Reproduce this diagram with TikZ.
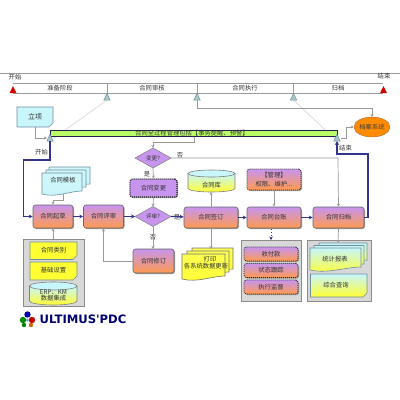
\documentclass[tikz,border=0pt]{standalone}
\usepackage{fontspec}
\setmainfont{Noto Sans CJK SC}
\newfontfamily\logofont{DejaVu Sans}
\usetikzlibrary{arrows.meta,shadows,calc,shapes.geometric}
\definecolor{grayln}{HTML}{9A9A9A}
\definecolor{blueln}{HTML}{34348C}
\definecolor{txt}{HTML}{333333}
\definecolor{purp}{HTML}{C795EE}
\definecolor{orng}{HTML}{FF9A50}
\definecolor{cyanb}{HTML}{C8F6FA}
\definecolor{yel}{HTML}{FFFF33}
\definecolor{panelc}{HTML}{D8D8D8}
\definecolor{edge}{HTML}{6F8FA0}
\tikzset{
  lbl/.style={font=\fontsize{6.3}{7}\selectfont,text=txt,inner sep=0pt},
  smalllbl/.style={lbl,font=\fontsize{5.6}{6}\selectfont},
  grayarrow/.style={draw=grayln,line width=.7pt,-{Stealth[length=3pt,width=3pt]}},
  bluearrow/.style={draw=blueln,line width=1.2pt,-{Stealth[length=4pt,width=4pt]}},
  proc/.style={lbl,draw=black!60,rounded corners=2.5pt,top color=purp,bottom color=orng,line width=.6pt,
     drop shadow={shadow xshift=1pt,shadow yshift=-1pt,fill=black!50,opacity=.8}},
  dotproc/.style={proc,draw=black!85,dashed,dash pattern=on 1pt off 1pt,line width=.8pt},
  purpleproc/.style={dotproc,top color=purp,bottom color=purp,line width=1.2pt},
  decide/.style={draw=black!50,fill=purp,line width=.5pt},
  panelbox/.style={draw=black!45,fill=panelc,line width=.5pt,
     drop shadow={shadow xshift=1pt,shadow yshift=-1pt,fill=black!50,opacity=.6}},
  tltri/.style={draw=edge,line width=.5pt,fill=cyanb!60!gray},
  redtri/.style={fill=red!85!black},
}
% note with folded lower right corner
\newcommand{\notebox}[6]{% x0 y0 x1 y1 topcolor bottomcolor
  \path[draw=edge,line width=.6pt,top color=#5,bottom color=#6]
    (#1,#2) -- (#3,#2) -- (#3,#4-4) -- (#3-4,#4) -- (#1,#4) -- cycle;}
% document with a wavy lower edge
\newcommand{\docbox}[6]{%
  \path[draw=#6,line width=.6pt,top color=#5!85!white,bottom color=#5]
    (#1,#2) -- (#3,#2) -- (#3,#4-3)
    .. controls ($(#1,#4)!.7!(#3,#4)+(0,-3)$) and ($(#1,#4)!.35!(#3,#4)+(0,4)$) .. (#1,#4) -- cycle;}
\newcommand{\docboxb}[6]{%
  \path[draw=#6,line width=.6pt,top color=cyanb,bottom color=#5]
    (#1,#2) -- (#3,#2) -- (#3,#4-3)
    .. controls ($(#1,#4)!.7!(#3,#4)+(0,-3)$) and ($(#1,#4)!.35!(#3,#4)+(0,4)$) .. (#1,#4) -- cycle;}
\newcommand{\cyl}[6]{% x0 y0 x1 y1 ry bottomcolor
  \path[draw=black!50,line width=.6pt,top color=cyanb,bottom color=#6]
    (#1,#2+#5) -- (#1,#4-#5) arc[start angle=180,end angle=360,x radius={(#3-#1)/2},y radius=-#5] -- (#3,#2+#5) -- cycle;
  \path[draw=black!50,line width=.6pt,fill=cyanb]
    ({(#1+#3)/2},#2+#5) ellipse[x radius={(#3-#1)/2},y radius=#5];}
\begin{document}
\begin{tikzpicture}[x=1pt,y=-1pt]
\useasboundingbox (0,0) rectangle (400,400);
% timeline
\draw[grayln,line width=.7pt] (0,73) -- (400,73);
\draw[grayln,line width=.8pt] (13,83) -- (383,83) (13,93) -- (383,93);
\draw[grayln,line width=.8pt] (107,83) -- (107,93) (197,83) -- (197,93) (293.5,83) -- (293.5,93);
\node[lbl] (lstart) at (15,77) {开始};
\node[lbl] (lend) at (384,76) {结束};
\node[lbl] (p1) at (60,88) {准备阶段};
\node[lbl] (p2) at (152,88) {合同审核};
\node[lbl] (p3) at (245,88) {合同执行};
\node[lbl] (p4) at (338,88) {归档};
\fill[redtri] (13,86) -- (16.5,93) -- (9.5,93) -- cycle;
\fill[redtri] (383.5,86) -- (387,93) -- (380,93) -- cycle;
\coordinate (t1) at (107,100); \coordinate (t2) at (197,100); \coordinate (t3) at (293.5,100);
\coordinate (tb) at (50,141); \coordinate (te) at (337,141);
% long faint links
\draw[black!15,line width=.7pt] (t1) -- (tb);
\draw[black!15,line width=.7pt] (t3) -- (te);
% sys line
\draw[grayarrow] (t2) |- (197,108) -- (372,108) -- (372,117);
% green bar
\node[draw=blueln!60!black,fill=green!45!yellow!60!white,line width=1pt,minimum width=287pt,minimum height=6pt,inner sep=0pt] (bar) at (193.5,133) {};
\node[lbl,text=black!80] (bartxt) at (192,133) {合同全过程管理包括【事务提醒、预警】};
% triangles
\foreach \x/\y in {107/100,197/100,293.5/100,50/141,337/141}
  \path[tltri] (\x,\y-6.5) -- (\x+3.2,\y) -- (\x-3.2,\y) -- cycle;
% initiation
\notebox{17}{107}{53}{127}{cyanb}{cyanb}
\node[lbl,minimum width=36pt,minimum height=20pt,font=\fontsize{7}{8}\selectfont] (lx) at (35,117) {立项};
\draw[grayarrow] (35,127) |- (47,138);
\node[lbl] (ks) at (41.5,152) {开始};
\node[lbl] (js) at (345.5,148) {结束};
% archive ellipse
\node[draw=orng!70!black,fill=orange!90!yellow,ellipse,minimum width=36pt,minimum height=20pt,inner sep=0pt,lbl,text=black!75] (arch) at (372,127) {档案系统};
\draw[grayarrow] (341,138) -| (346,127) -- (arch.west);
% diamonds
\path[decide] (135,158) -- (153,148) -- (171,158) -- (153,168) -- cycle;
\node[smalllbl] (dchg) at (153,158) {变更?};
\path[decide] (135,216.5) -- (153,206.5) -- (171,216.5) -- (153,226.5) -- cycle;
\node[smalllbl] (drev) at (153,216.5) {评审?};
\node[lbl] (no1) at (180,155) {否};
\node[lbl] (yes1) at (147,174) {是};
\node[lbl] (yes2) at (177,217) {是};
\node[lbl] (no2) at (153,237) {否};
% cylinders, docs
\docbox{49}{167}{90}{187}{cyanb}{edge}
\docbox{46}{170}{86}{190}{cyanb}{edge}
\docbox{42}{173}{82}{194}{cyanb}{edge}
\node[lbl,minimum width=40pt,minimum height=20pt] (tpl) at (63,180) {合同模板};
\cyl{188}{170}{235}{192}{3.5}{yel}
\node[lbl,minimum width=47pt,minimum height=22pt] (db) at (211.5,185) {合同库};
\docbox{192}{248}{233}{272}{yel}{black!55}
\docbox{187}{251}{229}{275}{yel}{black!55}
\docbox{182}{254}{225}{279}{yel}{black!55}
\node[lbl] (pr) at (210,259.5) {打印};
\node[lbl] (up) at (206,266.5) {各系统数据更新};
% panels
\path[panelbox] (23,239) rectangle (84,306);
\path[panelbox] (241,240) rectangle (301,301);
\path[panelbox] (307,240) rectangle (371,301);
% left panel
\notebox{30}{242}{77}{259.5}{yel}{yel}
\node[lbl] (c1) at (53.5,250) {合同类别};
\notebox{30}{262}{77}{280}{yel}{yel}
\node[lbl] (c2) at (53.5,270) {基础设置};
\cyl{29.5}{282}{77}{305}{4}{yel}
\node[lbl] (c3) at (53.5,292) {ERP、KM};
\node[lbl] (c4) at (53.5,298) {数据集成};
% right panel
\docboxb{319}{243}{367}{263}{yel}{edge}
\docboxb{314}{245.5}{364}{267}{yel}{edge}
\docboxb{310}{248}{361}{270}{yel}{edge}
\node[lbl] (st) at (335,259.5) {统计报表};
\notebox{310.5}{274}{367}{297}{cyanb}{yel}
\node[lbl] (zh) at (336,285) {综合查询};
% process boxes
\node[proc,minimum width=40pt,minimum height=23pt] (qc) at (53,216.5) {合同起草};
\node[proc,minimum width=40pt,minimum height=23pt] (ps) at (103.5,216.5) {合同评审};
\node[proc,minimum width=54pt,minimum height=21pt] (qd) at (211,217.5) {合同签订};
\node[proc,minimum width=54pt,minimum height=21pt] (tz) at (274,217.5) {合同台账};
\node[proc,minimum width=51pt,minimum height=21pt] (gd) at (338.5,217.5) {合同归档};
\node[proc,minimum width=41pt,minimum height=24pt] (xd) at (153.5,261) {合同修订};
\node[purpleproc,minimum width=47pt,minimum height=18pt] (bg) at (153.5,188) {合同变更};
\node[dotproc,minimum width=54pt,minimum height=21pt,align=center] (gl) at (274,179.5) {};
\node[lbl] (gl1) at (274,175.5) {【管理】};
\node[lbl] (gl2) at (274,184) {权限、维护...};
\node[dotproc,minimum width=54pt,minimum height=14pt] (sk) at (271,254) {收付款};
\node[dotproc,minimum width=54pt,minimum height=14pt] (zt) at (271,270.5) {状态跟踪};
\node[dotproc,minimum width=54pt,minimum height=14pt] (zx) at (271,287) {执行监督};
% connectors
\draw[bluearrow,-] (tb) -- (50,160) -- (23.5,160) -- (23.5,216.5);
\draw[bluearrow] (23.5,216.5) -- (qc.west);
\draw[bluearrow] (qc) -- (ps);
\draw[bluearrow] (ps) -- (135,216.5);
\draw[bluearrow] (171,216.5) -- (qd);
\draw[bluearrow] (qd) -- (tz);
\draw[bluearrow] (tz) -- (gd);
\draw[bluearrow] (gd.east) -- (368,217.5) -- (368,154) -- (337,154) -- (te);
\draw[blueln,line width=1pt,dotted,-{Stealth[length=3.5pt,width=3.5pt]}] (271,229) -- (271,240);
\draw[grayarrow] (194.5,137) |- (153,142.5) -- (153,148);
\draw[grayarrow] (171,158) -- (338,158) -- (gd.north);
\draw[grayarrow] (153,168) -- (bg.north);
\draw[grayarrow] (bg.south) -- (153,206.5);
\draw[grayarrow] (153,226.5) -- (153,249);
\draw[grayarrow] (xd.west) -| (ps.south);
\draw[grayarrow] (63,194) -- (63,200) -| (qc.north);
\draw[grayarrow] (53,239) -- (qc.south);
\draw[grayarrow] (qd.north) -- (211,192);
\draw[grayarrow] (qd.south) -- (211,249);
\draw[grayarrow] (gl.south) -- (tz.north);
\draw[grayarrow] (gd.south) -- (338,243);
% logo
\fill[blue!70!black] (27.5,314.5) circle (3.2pt);
\fill[green!55!black] (23,320) circle (3.2pt);
\fill[red!75!black] (32,320) circle (3.2pt);
\fill[green!50!black] (24,325) circle (2.2pt);
\fill[orange!80!black] (31,325) circle (2.2pt);
\fill[cyan!60!gray] (27.5,320) circle (1.5pt);
\node[inner sep=0pt,anchor=west,text=blue!45!black] (logo) at (39.5,319)
  {\logofont\bfseries\fontsize{11.6}{12}\selectfont ULTIMUS'PDC};
\end{tikzpicture}
\end{document}
